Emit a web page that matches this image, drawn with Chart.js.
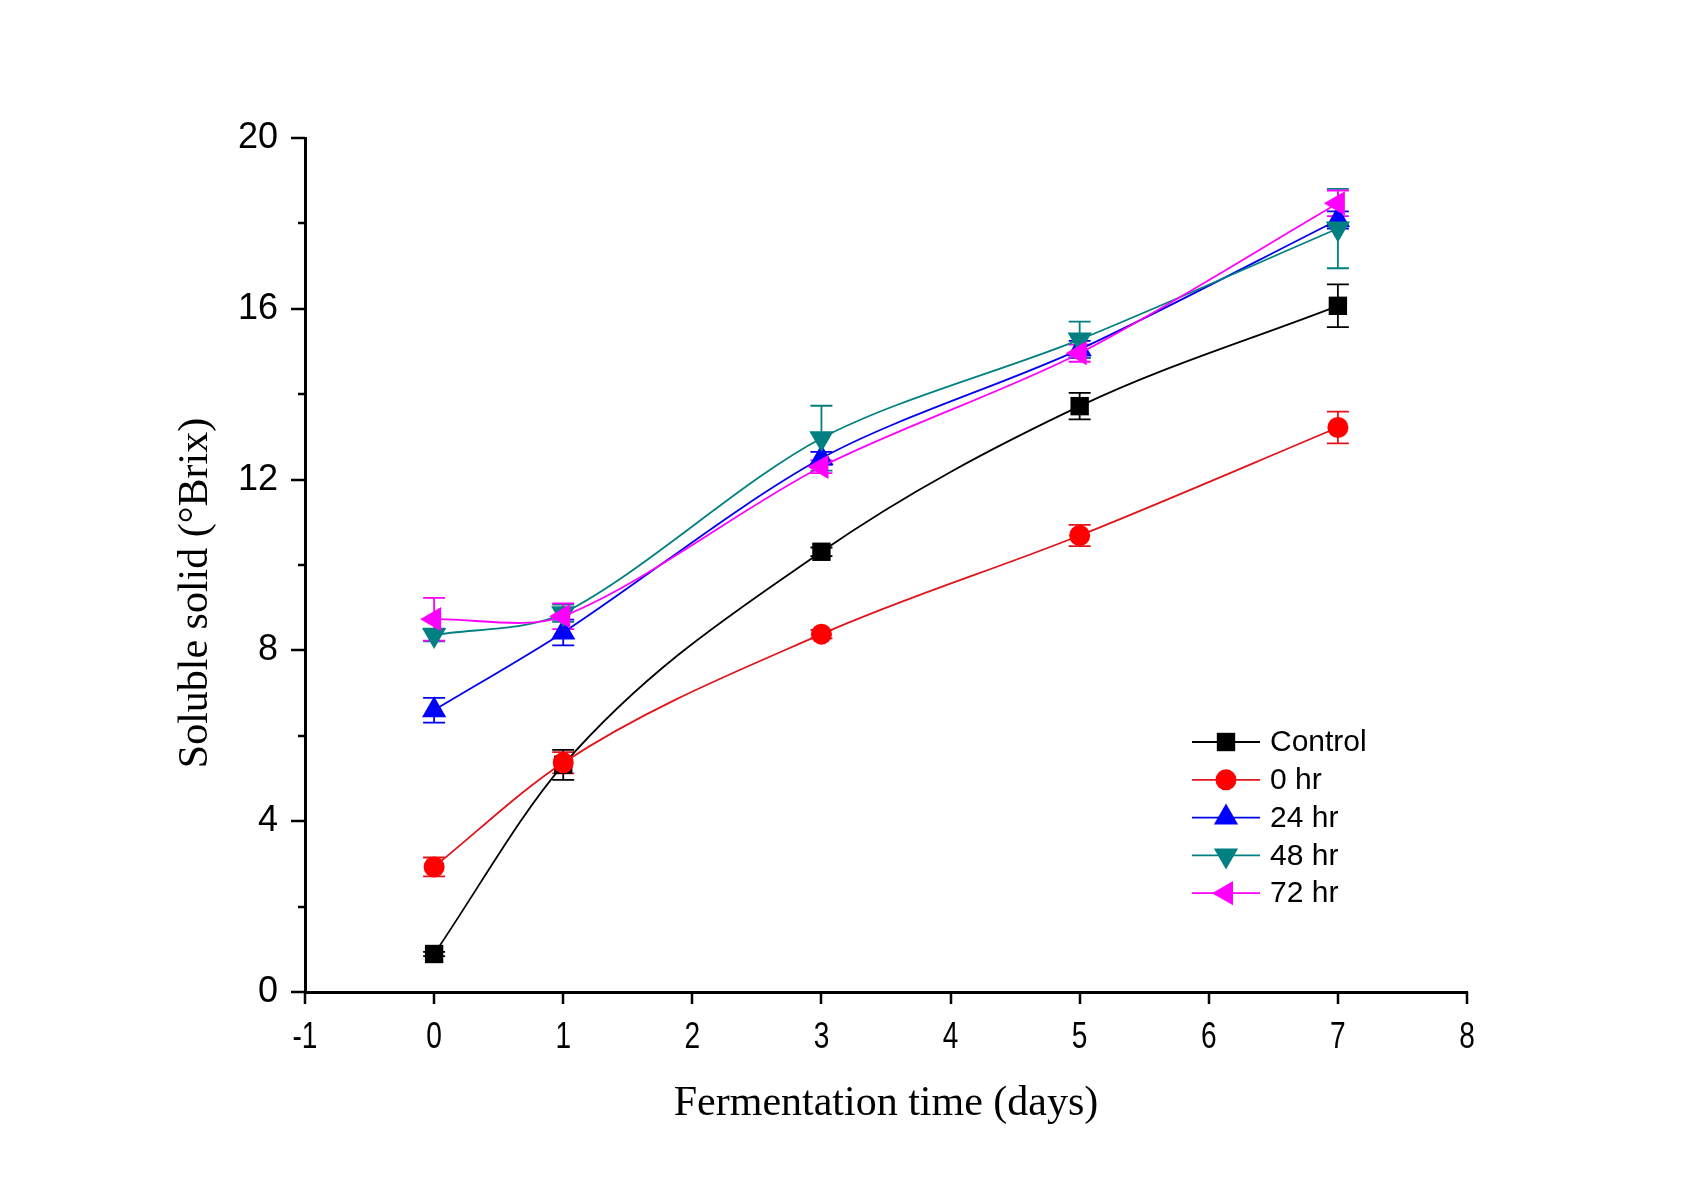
<!DOCTYPE html>
<html><head><meta charset="utf-8">
<script src="https://cdn.jsdelivr.net/npm/chart.js@4.4.0/dist/chart.umd.min.js"></script>
<style>html,body{margin:0;padding:0;background:#fff;}canvas{display:block;}</style>
</head><body>
<canvas id="c" width="1705" height="1191"></canvas>
<script>
const days = [0, 1, 3, 5, 7];
const seriesNames = ['Control', '0 hr', '24 hr', '48 hr', '72 hr'];
const controlVals = [0.89, 5.32, 10.31, 13.72, 16.07];
const controlErr  = [0.05, 0.35, 0.10, 0.31, 0.50];
const hr0Vals = [2.93, 5.37, 8.38, 10.69, 13.22];
const hr0Err  = [0.22, 0.25, 0.10, 0.25, 0.37];
const hr24Vals = [6.60, 8.42, 12.50, 15.05, 18.08];
const hr24Err  = [0.29, 0.30, 0.15, 0.20, 0.20];
const hr48Vals = [8.36, 8.87, 12.97, 15.28, 17.88];
const hr48Err  = [0.15, 0.20, 0.76, 0.42, 0.93];
const hr72Vals = [8.73, 8.80, 12.30, 14.96, 18.47];
const hr72Err  = [0.50, 0.30, 0.15, 0.20, 0.30];
const xTicks = [-1, 0, 1, 2, 3, 4, 5, 6, 7, 8];
const yMajor = [0, 4, 8, 12, 16, 20];
const yMinor = [2, 6, 10, 14, 18];
const xTitle = 'Fermentation time (days)';
const yTitle = 'Soluble solid (\u00B0Brix)';

const styles = [
  {line: '#000000', fill: '#000000', pointStyle: 'rect', radius: 13, rotation: 0, mono: true},
  {line: '#e0141c', fill: '#ff0000', pointStyle: 'circle', radius: 10.5, rotation: 0, mono: true},
  {line: '#0000ee', fill: '#0000ff', pointStyle: 'triangle', radius: 14, rotation: 0, mono: false},
  {line: '#008080', fill: '#008080', pointStyle: 'triangle', radius: 14, rotation: 180, mono: false},
  {line: '#ff00ff', fill: '#ff00ff', pointStyle: 'triangle', radius: 14, rotation: 270, mono: false}
];
const allVals = [controlVals, hr0Vals, hr24Vals, hr48Vals, hr72Vals];
const allErr = [controlErr, hr0Err, hr24Err, hr48Err, hr72Err];

const datasets = allVals.map((vals, i) => ({
  label: seriesNames[i],
  data: days.map((d, j) => ({x: d, y: vals[j]})),
  errors: allErr[i],
  borderColor: styles[i].line,
  backgroundColor: styles[i].fill,
  pointBackgroundColor: styles[i].fill,
  pointBorderColor: styles[i].fill,
  pointBorderWidth: 0,
  pointStyle: styles[i].pointStyle,
  pointRadius: styles[i].radius,
  pointHoverRadius: styles[i].radius,
  pointRotation: styles[i].rotation,
  borderWidth: 1.8,
  cubicInterpolationMode: styles[i].mono ? 'monotone' : 'default',
  tension: 0.3,
  fill: false,
  order: 5 - i
}));

function drawMarker(ctx, st, x, y) {
  ctx.save();
  ctx.fillStyle = st.fill;
  ctx.beginPath();
  const r = st.radius;
  if (st.pointStyle === 'rect') {
    const s = Math.SQRT1_2 * r;
    ctx.rect(x - s, y - s, 2 * s, 2 * s);
  } else if (st.pointStyle === 'circle') {
    ctx.arc(x, y, r, 0, Math.PI * 2);
  } else {
    let rad = st.rotation * Math.PI / 180;
    for (let k = 0; k < 3; k++) {
      const a = rad + k * 2 * Math.PI / 3;
      const px = x + Math.sin(a) * r, py = y - Math.cos(a) * r;
      if (k === 0) ctx.moveTo(px, py); else ctx.lineTo(px, py);
    }
    ctx.closePath();
  }
  ctx.fill();
  ctx.restore();
}

const decor = {
  id: 'decor',
  beforeDatasetsDraw(chart) {
    const ctx = chart.ctx, xs = chart.scales.x, ys = chart.scales.y;
    chart.data.datasets.forEach((ds, i) => {
      ctx.save();
      ctx.strokeStyle = styles[i].line;
      ctx.lineWidth = 1.8;
      ds.data.forEach((p, j) => {
        const e = ds.errors[j];
        const px = xs.getPixelForValue(p.x);
        const top = ys.getPixelForValue(p.y + e), bot = ys.getPixelForValue(p.y - e);
        ctx.beginPath();
        ctx.moveTo(px, top); ctx.lineTo(px, bot);
        ctx.moveTo(px - 11, top); ctx.lineTo(px + 11, top);
        ctx.moveTo(px - 11, bot); ctx.lineTo(px + 11, bot);
        ctx.stroke();
      });
      ctx.restore();
    });
  },
  afterDraw(chart) {
    const ctx = chart.ctx, xs = chart.scales.x, ys = chart.scales.y, ca = chart.chartArea;
    ctx.save();
    ctx.strokeStyle = '#000';
    ctx.lineWidth = 2.5;
    ctx.beginPath();
    xTicks.forEach(v => {
      const px = Math.round(xs.getPixelForValue(v));
      ctx.moveTo(px, ca.bottom); ctx.lineTo(px, ca.bottom + 12);
    });
    yMajor.forEach(v => {
      const py = Math.round(ys.getPixelForValue(v));
      ctx.moveTo(ca.left, py); ctx.lineTo(ca.left - 14, py);
    });
    yMinor.forEach(v => {
      const py = Math.round(ys.getPixelForValue(v));
      ctx.moveTo(ca.left, py); ctx.lineTo(ca.left - 7, py);
    });
    ctx.stroke();
    // x tick labels (condensed)
    ctx.fillStyle = '#000';
    ctx.font = '36px "Liberation Sans", Arial, sans-serif';
    ctx.textAlign = 'center';
    ctx.textBaseline = 'alphabetic';
    xTicks.forEach(v => {
      const px = xs.getPixelForValue(v);
      ctx.save();
      ctx.translate(px, ca.bottom + 56);
      ctx.scale(0.78, 1);
      ctx.fillText(String(v), 0, 0);
      ctx.restore();
    });
    // titles
    ctx.font = '42px "Liberation Serif", "Times New Roman", serif';
    ctx.textAlign = 'center';
    ctx.textBaseline = 'middle';
    ctx.fillText(xTitle, (ca.left + ca.right) / 2, 1104);
    ctx.save();
    ctx.translate(196, 593);
    ctx.rotate(-Math.PI / 2);
    ctx.fillText(yTitle, 0, 0);
    ctx.restore();
    // legend
    ctx.font = '30px "Liberation Sans", Arial, sans-serif';
    ctx.textAlign = 'left';
    const lx1 = 1192, lx2 = 1260, ly0 = 742, dy = 37.8;
    seriesNames.forEach((name, i) => {
      const y = ly0 + i * dy;
      ctx.strokeStyle = styles[i].line;
      ctx.lineWidth = 1.8;
      ctx.beginPath(); ctx.moveTo(lx1, y); ctx.lineTo(lx2, y); ctx.stroke();
      drawMarker(ctx, styles[i], (lx1 + lx2) / 2, y);
      ctx.fillStyle = '#000';
      ctx.fillText(name, 1270, y + 1);
    });
    ctx.restore();
  }
};

new Chart(document.getElementById('c'), {
  type: 'line',
  data: {datasets},
  plugins: [decor],
  options: {
    responsive: false,
    animation: false,
    layout: {padding: {top: 138, right: 238, left: 0, bottom: 0}},
    plugins: {legend: {display: false}, tooltip: {enabled: false}},
    scales: {
      x: {
        type: 'linear', min: -1, max: 8,
        afterBuildTicks: s => { s.ticks = xTicks.map(v => ({value: v})); },
        afterFit: s => { s.height = 199; },
        grid: {display: false, drawTicks: false},
        border: {display: true, width: 3, color: '#000'},
        ticks: {display: false}
      },
      y: {
        type: 'linear', min: 0, max: 20,
        afterBuildTicks: s => { s.ticks = yMajor.map(v => ({value: v})); },
        afterFit: s => { s.width = 305; },
        grid: {display: false, drawTicks: false},
        border: {display: true, width: 3, color: '#000'},
        ticks: {padding: 27, color: '#000', font: {family: '"Liberation Sans", Arial', size: 36}}
      }
    }
  }
});
</script>
</body></html>
